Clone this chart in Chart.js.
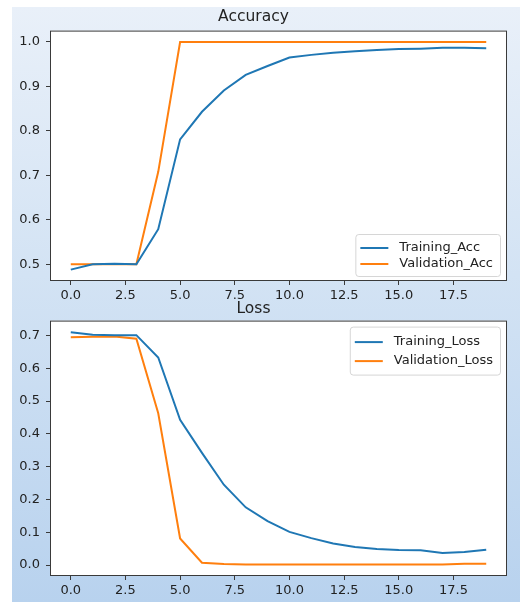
<!DOCTYPE html>
<html>
<head>
<meta charset="utf-8">
<script src="https://cdn.jsdelivr.net/npm/chart.js@4"></script>
<style>
  html, body { margin: 0; padding: 0; background: #ffffff; }
  #page { position: relative; width: 520px; height: 602px; overflow: hidden; }
  #bg { position: absolute; left: 12px; top: 7px; right: 0; bottom: 0;
        background: linear-gradient(to bottom, #e9f0f9 0%, #d3e3f4 45%, #b8d2ee 100%); }
  canvas { position: absolute; left: 0; }
  #accChart { top: 0; }
  #lossChart { top: 300px; }
</style>
</head>
<body>
<div id="page">
  <div id="bg"></div>
  <canvas id="accChart" width="520" height="300"></canvas>
  <canvas id="lossChart" width="520" height="302"></canvas>
</div>
<script>
// values
const epochs = [0, 1, 2, 3, 4, 5, 6, 7, 8, 9, 10, 11, 12, 13, 14, 15, 16, 17, 18, 19];

const trainingAcc = [0.488, 0.500, 0.501, 0.500, 0.579, 0.781, 0.843, 0.891, 0.926, 0.946, 0.965, 0.971, 0.976, 0.979, 0.982, 0.984, 0.985, 0.987, 0.987, 0.986];
const validationAcc = [0.500, 0.500, 0.500, 0.500, 0.708, 1.000, 1.000, 1.000, 1.000, 1.000, 1.000, 1.000, 1.000, 1.000, 1.000, 1.000, 1.000, 1.000, 1.000, 1.000];

const trainingLoss = [0.710, 0.702, 0.701, 0.701, 0.633, 0.443, 0.342, 0.245, 0.176, 0.134, 0.101, 0.082, 0.066, 0.055, 0.049, 0.046, 0.045, 0.037, 0.040, 0.047];
const validationLoss = [0.695, 0.696, 0.697, 0.690, 0.463, 0.081, 0.007, 0.003, 0.002, 0.002, 0.002, 0.002, 0.002, 0.002, 0.002, 0.002, 0.002, 0.002, 0.004, 0.004];

const xTicks = [0, 2.5, 5, 7.5, 10, 12.5, 15, 17.5];
const accYTicks = [0.5, 0.6, 0.7, 0.8, 0.9, 1.0];
const lossYTicks = [0.0, 0.1, 0.2, 0.3, 0.4, 0.5, 0.6, 0.7];

const BLUE = '#1f77b4';
const ORANGE = '#ff7f0e';
const TEXT = '#222222';
const FONT = 'DejaVu Sans';

// white plot area + dark frame around it
const framePlugin = {
  id: 'frame',
  beforeDraw(chart) {
    const a = chart.chartArea, ctx = chart.ctx;
    ctx.save();
    ctx.fillStyle = '#ffffff';
    ctx.fillRect(a.left, a.top, a.right - a.left, a.bottom - a.top);
    ctx.restore();
  },
  afterDraw(chart) {
    const a = chart.chartArea, ctx = chart.ctx;
    ctx.save();
    ctx.strokeStyle = '#3a3a3a';
    ctx.lineWidth = 1;
    ctx.strokeRect(a.left + 0.5, a.top + 0.5, a.right - a.left - 1, a.bottom - a.top - 1);
    ctx.restore();
  }
};

// matplotlib-like legend drawn inside the plot area
const innerLegend = {
  id: 'innerLegend',
  afterDatasetsDraw(chart, args, opts) {
    const a = chart.chartArea, ctx = chart.ctx;
    ctx.save();
    ctx.font = '13px ' + FONT;
    const sets = chart.data.datasets;
    const textW = Math.max(...sets.map(d => ctx.measureText(d.label).width));
    const w = 5 + 28 + 11 + textW + 7;
    const h = opts.rowGap * sets.length + 10;
    const x = a.right - 7 - w;
    const y = opts.corner === 'upper' ? a.top + 6 : a.bottom - 5 - h;
    ctx.fillStyle = 'rgba(255,255,255,0.85)';
    ctx.strokeStyle = '#d6d6d6';
    ctx.lineWidth = 1;
    ctx.beginPath();
    ctx.roundRect(x + 0.5, y + 0.5, w, h, 3);
    ctx.fill();
    ctx.stroke();
    sets.forEach((d, i) => {
      const cy = y + 5 + opts.rowGap * (i + 0.5) + 1;
      ctx.strokeStyle = d.borderColor;
      ctx.lineWidth = 2;
      ctx.beginPath();
      ctx.moveTo(x + 5, cy);
      ctx.lineTo(x + 33, cy);
      ctx.stroke();
      ctx.fillStyle = TEXT;
      ctx.textBaseline = 'middle';
      ctx.fillText(d.label, x + 44, cy);
    });
    ctx.restore();
  }
};

function makeChart(id, title, yMin, yMax, yTicks, sets, legendCorner, rowGap, titlePad, bottomH) {
  const tickGrid = { display: true, drawOnChartArea: false, drawTicks: true, tickLength: 4, tickColor: '#3a3a3a', tickWidth: 1 };
  return new Chart(document.getElementById(id), {
    type: 'line',
    data: {
      datasets: sets.map(s => ({
        label: s.label,
        data: epochs.map((e, i) => ({ x: e, y: s.values[i] })),
        borderColor: s.color,
        backgroundColor: s.color,
        borderWidth: 2,
        pointRadius: 0,
        tension: 0,
        fill: false
      }))
    },
    options: {
      responsive: false,
      animation: false,
      layout: { padding: { left: 0, right: 13, top: 0, bottom: 0 } },
      plugins: {
        legend: { display: false },
        tooltip: { enabled: false },
        title: {
          display: true,
          text: title,
          color: TEXT,
          font: { family: FONT, size: 15.5, weight: 'normal' },
          padding: titlePad
        },
        innerLegend: { corner: legendCorner, rowGap: rowGap }
      },
      scales: {
        x: {
          type: 'linear',
          min: -0.95,
          max: 19.95,
          afterBuildTicks: s => { s.ticks = xTicks.map(v => ({ value: v })); },
          afterFit: s => { s.height = bottomH; },
          grid: tickGrid,
          border: { display: false },
          ticks: {
            color: TEXT,
            font: { family: FONT, size: 13 },
            padding: 3,
            maxRotation: 0,
            autoSkip: false,
            callback: v => v.toFixed(1)
          }
        },
        y: {
          min: yMin,
          max: yMax,
          afterBuildTicks: s => { s.ticks = yTicks.map(v => ({ value: v })); },
          afterFit: s => { s.width = 50; },
          grid: tickGrid,
          border: { display: false },
          ticks: {
            color: TEXT,
            font: { family: FONT, size: 13 },
            padding: 6,
            autoSkip: false,
            callback: v => v.toFixed(1)
          }
        }
      }
    },
    plugins: [framePlugin, innerLegend]
  });
}

makeChart('accChart', 'Accuracy', 0.4624, 1.0256, accYTicks, [
  { label: 'Training_Acc', values: trainingAcc, color: BLUE },
  { label: 'Validation_Acc', values: validationAcc, color: ORANGE }
], 'lower', 16, { top: 8, bottom: 4 }, 19);

makeChart('lossChart', 'Loss', -0.0334, 0.7454, lossYTicks, [
  { label: 'Training_Loss', values: trainingLoss, color: BLUE },
  { label: 'Validation_Loss', values: validationLoss, color: ORANGE }
], 'upper', 19, { top: 0, bottom: 2 }, 26);
</script>
</body>
</html>
